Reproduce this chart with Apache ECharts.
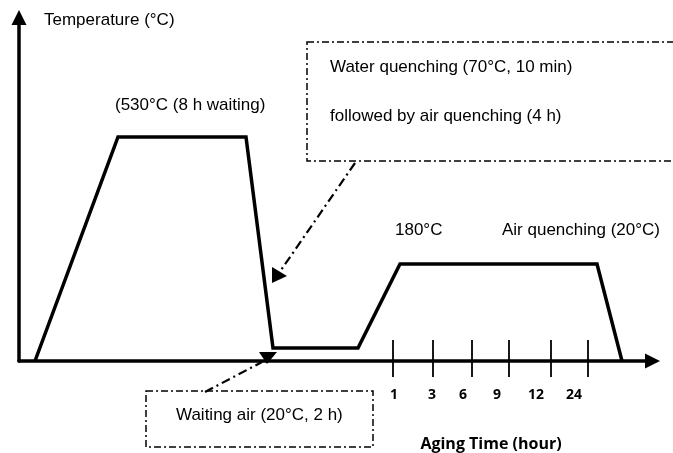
<!DOCTYPE html>
<html>
<head>
<meta charset="utf-8">
<script src="https://cdn.jsdelivr.net/npm/echarts@6/dist/echarts.min.js"></script>
<style>
html, body { margin: 0; padding: 0; background: #fff; }
#main { width: 673px; height: 453px; }
</style>
</head>
<body>
<div id="main"></div>
<script>
// schematic heat treatment profile (arbitrary units along both axes)
var profileTime = [16, 99, 227, 254, 339, 381, 578, 603];
var profileTemp = [0, 224, 224, 13, 13, 97, 97, 0];
// aging time marks
var tickTimes = [374, 414, 453, 490, 532, 569];
var labelTimes = [375, 413, 444, 478, 517, 555];
var tickLabels = ['1', '3', '6', '9', '12', '24'];

var txt = '17px "Liberation Sans", Arial, sans-serif';
var dashBox = [7, 3, 2, 3];
var dashArrow = [9, 4, 2, 4];

var profile = [];
for (var i = 0; i < profileTime.length; i++) {
	profile.push([profileTime[i], profileTemp[i]]);
}
var ticks = [];
for (var j = 0; j < tickTimes.length; j++) {
	ticks.push([tickTimes[j], 0]);
}

function label(text, x, y, font, align) {
	return {
		type: 'text', x: x, y: y,
		style: { text: text, font: font || txt, fill: '#000', align: align || 'left', verticalAlign: 'middle' }
	};
}

var myChart = echarts.init(document.getElementById('main'));
myChart.setOption({
	animation: false,
	backgroundColor: '#fff',
	grid: { left: 19, right: 20.5, top: 17.5, bottom: 92 },
	xAxis: {
		type: 'value', min: 0, max: 633.5,
		splitLine: { show: false },
		axisTick: { show: false },
		axisLine: {
			onZero: false,
			symbol: ['none', 'triangle'], symbolSize: [15, 15],
			lineStyle: { color: '#000', width: 3.5 }
		},
		axisLabel: {
			customValues: labelTimes,
			margin: 27,
			color: '#000',
			fontFamily: '"Open Sans", sans-serif',
			fontWeight: 'bold',
			fontSize: 14,
			formatter: function(v) { return tickLabels[labelTimes.indexOf(v)]; }
		}
	},
	yAxis: {
		type: 'value', min: 0, max: 343.5,
		splitLine: { show: false },
		axisTick: { show: false },
		axisLabel: { show: false },
		axisLine: {
			show: true, onZero: false,
			symbol: ['none', 'triangle'], symbolSize: [15, 15],
			lineStyle: { color: '#000', width: 3.5 }
		}
	},
	series: [{
		type: 'line',
		data: profile,
		showSymbol: false,
		lineStyle: { color: '#000', width: 3.5, join: 'miter' },
		z: 3
	}, {
		type: 'custom',
		data: ticks,
		renderItem: function(params, api) {
			var p = api.coord([api.value(0), api.value(1)]);
			return {
				type: 'line',
				shape: { x1: p[0], y1: p[1] - 21, x2: p[0], y2: p[1] + 16 },
				style: { stroke: '#000', lineWidth: 1.8 }
			};
		},
		z: 4
	}],
	graphic: [
		label('Temperature (°C)', 44, 20),
		label('(530°C (8 h waiting)', 115, 105),
		{
			type: 'rect', shape: { x: 307, y: 42, width: 400, height: 119 },
			style: { fill: 'none', stroke: '#000', lineWidth: 1.5, lineDash: dashBox }
		},
		label('Water quenching (70°C, 10 min)', 330, 67),
		label('followed by air quenching (4 h)', 330, 116),
		{
			type: 'line', shape: { x1: 355, y1: 163, x2: 279, y2: 273 },
			style: { stroke: '#000', lineWidth: 2.2, lineDash: dashArrow }
		},
		{
			type: 'polygon', shape: { points: [[272, 283], [272, 267], [287, 276]] },
			style: { fill: '#000' }
		},
		label('180°C', 395, 230),
		label('Air quenching (20°C)', 502, 230),
		{
			type: 'rect', shape: { x: 146, y: 391, width: 227, height: 56 },
			style: { fill: 'none', stroke: '#000', lineWidth: 1.5, lineDash: dashBox }
		},
		label('Waiting air (20°C, 2 h)', 176, 415),
		{
			type: 'line', shape: { x1: 205, y1: 392, x2: 262, y2: 362 },
			style: { stroke: '#000', lineWidth: 2.2, lineDash: dashArrow }
		},
		{
			type: 'polygon', shape: { points: [[259, 352], [277, 352], [267, 364]] },
			style: { fill: '#000' }
		},
		label('Aging Time (hour)', 491, 444, 'bold 16px "Open Sans", sans-serif', 'center')
	]
});
</script>
</body>
</html>
